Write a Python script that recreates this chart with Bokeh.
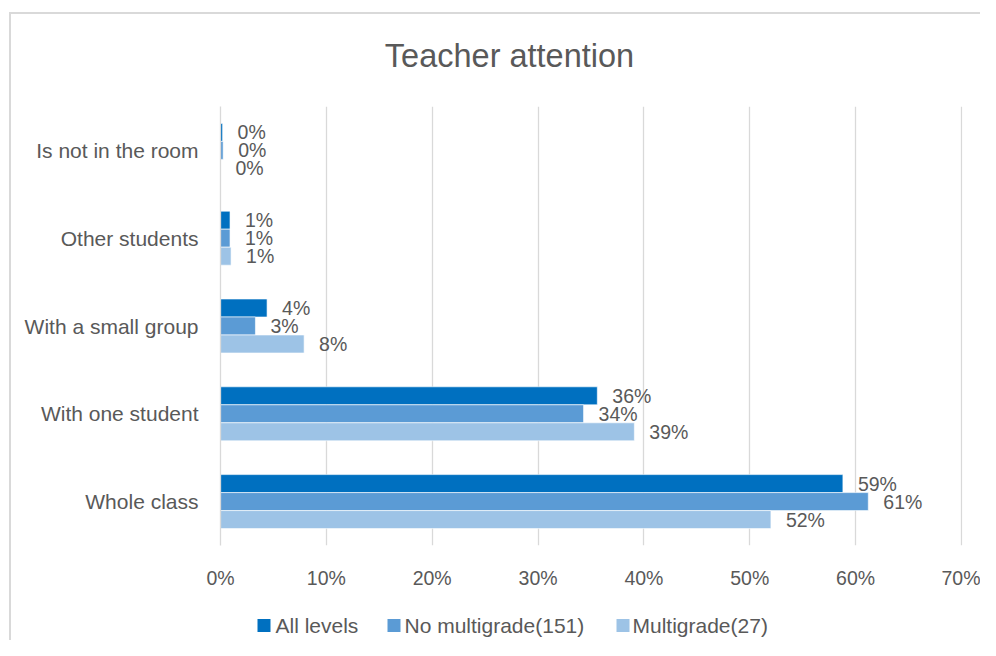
from bokeh.plotting import figure
from bokeh.layouts import column
from bokeh.models import ColumnDataSource, FactorRange, Range1d, FixedTicker, PrintfTickFormatter
from bokeh.transform import dodge
from bokeh.core.properties import value
from bokeh.embed import file_html
from bokeh.resources import INLINE

title_text = "Teacher attention"
categories = ["Whole class", "With one student", "With a small group", "Other students", "Is not in the room"]
series_names = ["All levels", "No multigrade(151)", "Multigrade(27)"]
all_levels = [58.8, 35.6, 4.4, 0.9, 0.2]
no_multigrade = [61.2, 34.3, 3.3, 0.9, 0.25]
multigrade = [52.0, 39.1, 7.9, 1.0, 0.0]
x_ticks = [0, 10, 20, 30, 40, 50, 60, 70]

colors = ["#0070C0", "#5B9BD5", "#9DC3E6"]
FONT = "Liberation Sans"
GREY = "#595959"

W = 969
FL, FR = 209, 951   # frame left / right in figure pixels (shared by the column)

def lbl(vals):
    return [f"{round(v):.0f}%" for v in vals]

def strip(height):
    f = figure(width=W, height=height, x_range=Range1d(FL, FR), y_range=Range1d(0, height),
               output_backend="svg", toolbar_location=None,
               min_border_left=0, min_border_right=0, min_border_top=0, min_border_bottom=0)
    f.axis.visible = False
    f.grid.visible = False
    f.outline_line_color = None
    f.border_fill_color = "white"
    return f

# title strip
TH = 92
t = strip(TH)
t.text(x=[498], y=[TH - 41], text=[title_text], text_baseline="middle", text_align="center",
       text_font=value(FONT), text_font_size="32.5px", text_color=GREY)

src = ColumnDataSource(dict(
    cat=categories,
    a=all_levels, b=no_multigrade, c=multigrade,
    la=lbl(all_levels), lb=lbl(no_multigrade), lc=lbl(multigrade),
))

p = figure(width=W, height=498, y_range=FactorRange(*categories), x_range=Range1d(0, 70.1),
           output_backend="svg", toolbar_location=None,
           min_border_left=FL, min_border_right=W - FR, min_border_top=0, min_border_bottom=59)
p.border_fill_color = "white"

h = 0.205
offs = [h, 0.0, -h]
for key, lkey, off, col in zip(["a", "b", "c"], ["la", "lb", "lc"], offs, colors):
    p.hbar(y=dodge("cat", off, range=p.y_range), right=key, left=0, height=h,
           source=src, fill_color=col, line_color="white", line_width=0.6)
    p.text(x=key, y=dodge("cat", off, range=p.y_range), text=lkey, source=src,
           x_offset=15, text_baseline="middle", text_align="left",
           text_font=value(FONT), text_font_size="19.5px", text_color=GREY)

p.xaxis.ticker = FixedTicker(ticks=x_ticks)
p.xaxis.formatter = PrintfTickFormatter(format="%d%%")
p.xaxis.axis_line_color = None
p.xaxis.major_tick_line_color = None
p.xaxis.minor_tick_line_color = None
p.xaxis.major_label_standoff = 15
p.yaxis.major_label_standoff = 16
p.yaxis.axis_line_color = "#d9d9d9"
p.yaxis.axis_line_width = 1.3
p.yaxis.major_tick_line_color = None
p.yaxis.minor_tick_line_color = None
p.xaxis.major_label_text_font = FONT
p.xaxis.major_label_text_font_size = "19.5px"
p.xaxis.major_label_text_color = GREY
p.yaxis.major_label_text_font = FONT
p.yaxis.major_label_text_font_size = "21px"
p.yaxis.major_label_text_color = GREY

p.xgrid.grid_line_color = "#d9d9d9"
p.xgrid.grid_line_width = 1.3
p.ygrid.grid_line_color = None
p.outline_line_color = None

# legend strip
LH = 36
q = strip(LH)
sq_left = [246, 376, 605]
txt_left = [264, 393, 621]
leg = ColumnDataSource(dict(sx=[s + 6.5 for s in sq_left], tx=txt_left, y=[15] * 3,
                            name=series_names, color=colors))
q.rect(x="sx", y="y", width=13, height=13, fill_color="color", line_color=None, source=leg)
q.text(x="tx", y="y", text="name", source=leg, text_baseline="middle", text_align="left",
       text_font=value(FONT), text_font_size="21px", text_color=GREY)

layout = column(t, p, q, spacing=0, margin=(12, 0, 0, 9),
                styles={"border-top": "2px solid #d9d9d9", "border-left": "2px solid #d9d9d9"})

open("out.html", "w").write(file_html(layout, INLINE))
